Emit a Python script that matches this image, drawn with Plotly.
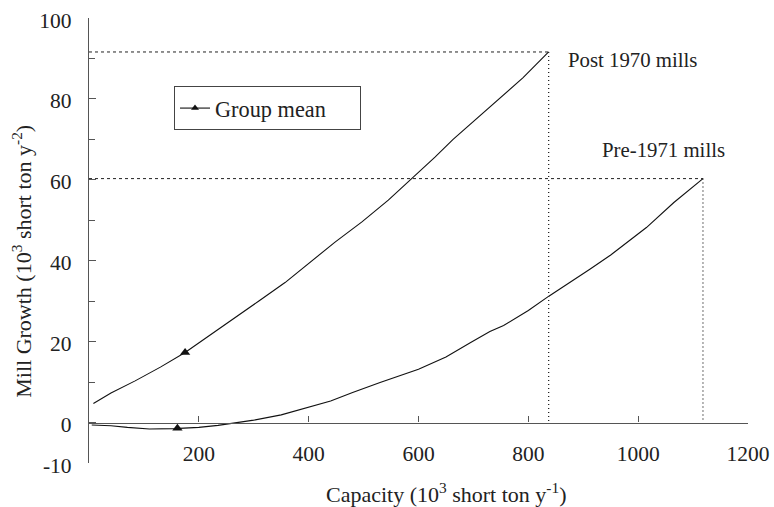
import plotly.graph_objects as go

# ---- data ----
post_x = [8, 40, 84, 130, 175, 220, 266, 310, 357, 400, 448, 497, 545, 590, 630, 663, 700, 736, 790, 837]
post_y = [4.7, 7.3, 10.3, 13.7, 17.3, 21.5, 26.0, 30.1, 34.6, 39.4, 44.6, 49.6, 55.0, 60.6, 65.6, 70.0, 74.5, 78.8, 85.2, 91.6]

pre_x = [5, 40, 70, 110, 155, 200, 235, 265, 300, 350, 400, 440, 480, 530, 600, 650, 695, 730, 755, 800, 838, 880, 912, 950, 1015, 1065, 1118]
pre_y = [-0.6, -0.8, -1.2, -1.6, -1.5, -1.2, -0.7, -0.1, 0.6, 1.9, 3.7, 5.3, 7.4, 9.9, 13.2, 16.2, 19.8, 22.5, 24.0, 27.7, 31.3, 35.0, 37.9, 41.4, 48.2, 54.4, 60.3]

mean_x = [175, 161]
mean_y = [17.3, -1.4]

x_ticks = [200, 400, 600, 800, 1000, 1200]
y_ticks = [-10, 0, 20, 40, 60, 80, 100]
y_minor = [10, 30, 50, 70, 90]

series_labels = ["Post 1970 mills", "Pre-1971 mills"]

FONT = '"Liberation Serif", "Times New Roman", serif'
TXT = "#222222"
AX = "#555555"

fig = go.Figure()

# reference dotted lines from curve end points
for xs, ys in [(post_x, post_y), (pre_x, pre_y)]:
    xe, ye = xs[-1], ys[-1]
    fig.add_trace(go.Scatter(x=[0, xe], y=[ye, ye], mode="lines",
                             line=dict(color="#222", width=1, dash="3px,3px"),
                             showlegend=False, hoverinfo="skip", xaxis="x2"))
    fig.add_trace(go.Scatter(x=[xe, xe], y=[ye, 0], mode="lines",
                             line=dict(color="#222", width=1.3, dash="1px,3px"),
                             showlegend=False, hoverinfo="skip", xaxis="x2"))

fig.add_trace(go.Scatter(x=post_x, y=post_y, mode="lines", line=dict(color="#111", width=1.1),
                         showlegend=False, xaxis="x"))
fig.add_trace(go.Scatter(x=pre_x, y=pre_y, mode="lines", line=dict(color="#111", width=1.1),
                         showlegend=False, xaxis="x"))
fig.add_trace(go.Scatter(x=mean_x, y=mean_y, mode="markers",
                         marker=dict(symbol="triangle-up", size=9, color="#111"),
                         showlegend=False, xaxis="x"))
# legend entry
fig.add_trace(go.Scatter(x=[None], y=[None], mode="lines+markers", name="Group mean",
                         line=dict(color="#111", width=1.1),
                         marker=dict(symbol="triangle-up", size=7, color="#111"),
                         showlegend=True, xaxis="x"))

# series labels
fig.add_annotation(x=869, y=89.7, xref="x", yref="y", text=series_labels[0], showarrow=False,
                   xanchor="left", yanchor="middle", font=dict(family=FONT, size=20.8, color=TXT))
fig.add_annotation(x=930, y=67.4, xref="x", yref="y", text=series_labels[1], showarrow=False,
                   xanchor="left", yanchor="middle", font=dict(family=FONT, size=20.8, color=TXT))

# axis titles
fig.add_annotation(x=0.542, y=-0.068, xref="paper", yref="paper",
                   text="Capacity (10<sup>3</sup> short ton y<sup>-1</sup>)", showarrow=False,
                   xanchor="center", yanchor="middle", font=dict(family=FONT, size=22, color=TXT))
fig.add_annotation(x=-0.102, y=0.454, xref="paper", yref="paper",
                   text="Mill Growth (10<sup>3</sup> short ton y<sup>-2</sup>)", showarrow=False,
                   textangle=-90, xanchor="center", yanchor="middle",
                   font=dict(family=FONT, size=22, color=TXT))

zero_pos = (0 - y_ticks[0]) / (y_ticks[-1] - y_ticks[0])

fig.update_layout(
    width=774, height=507,
    margin=dict(l=89, r=26, t=18, b=44),
    paper_bgcolor="white", plot_bgcolor="white",
    font=dict(family=FONT, size=20, color=TXT),
    showlegend=True,
    legend=dict(x=0.129, y=0.847, xanchor="left", yanchor="top", orientation="h",
                bordercolor="#444", borderwidth=1, bgcolor="white",
                font=dict(family=FONT, size=22.3, color=TXT),
                itemwidth=30, tracegroupgap=0, entrywidth=140, entrywidthmode="pixels"),
    xaxis=dict(range=[0, 1200], anchor="free", position=0.056,
               tickmode="array", tickvals=x_ticks, ticktext=[str(v) for v in x_ticks],
               showline=False, ticks="", showgrid=False, zeroline=False,
               tickfont=dict(family=FONT, size=21.5, color=TXT), automargin=False),
    xaxis2=dict(range=[0, 1200], overlaying="x", matches="x", anchor="free", position=zero_pos,
                tickmode="array", tickvals=x_ticks, showticklabels=False,
                showline=True, linecolor=AX, linewidth=1.2,
                ticks="inside", ticklen=6, tickcolor=AX, tickwidth=1.2,
                showgrid=False, zeroline=False, automargin=False),
    yaxis=dict(range=[-10, 100], tickmode="array", tickvals=y_ticks,
               ticktext=[str(v) for v in y_ticks],
               showline=True, linecolor=AX, linewidth=1.2,
               ticks="inside", ticklen=7, tickcolor=AX, tickwidth=1.2,
               minor=dict(tickvals=y_minor, ticks="inside", ticklen=6, tickcolor=AX, tickwidth=1.2),
               showgrid=False, zeroline=False, ticklabelstandoff=12, ticklabelshift=2,
               tickfont=dict(family=FONT, size=21.5, color=TXT), automargin=False),
)

fig.write_html("out.html", config={"displayModeBar": False},
               post_script="document.body.style.margin='0';document.body.style.padding='0';")
